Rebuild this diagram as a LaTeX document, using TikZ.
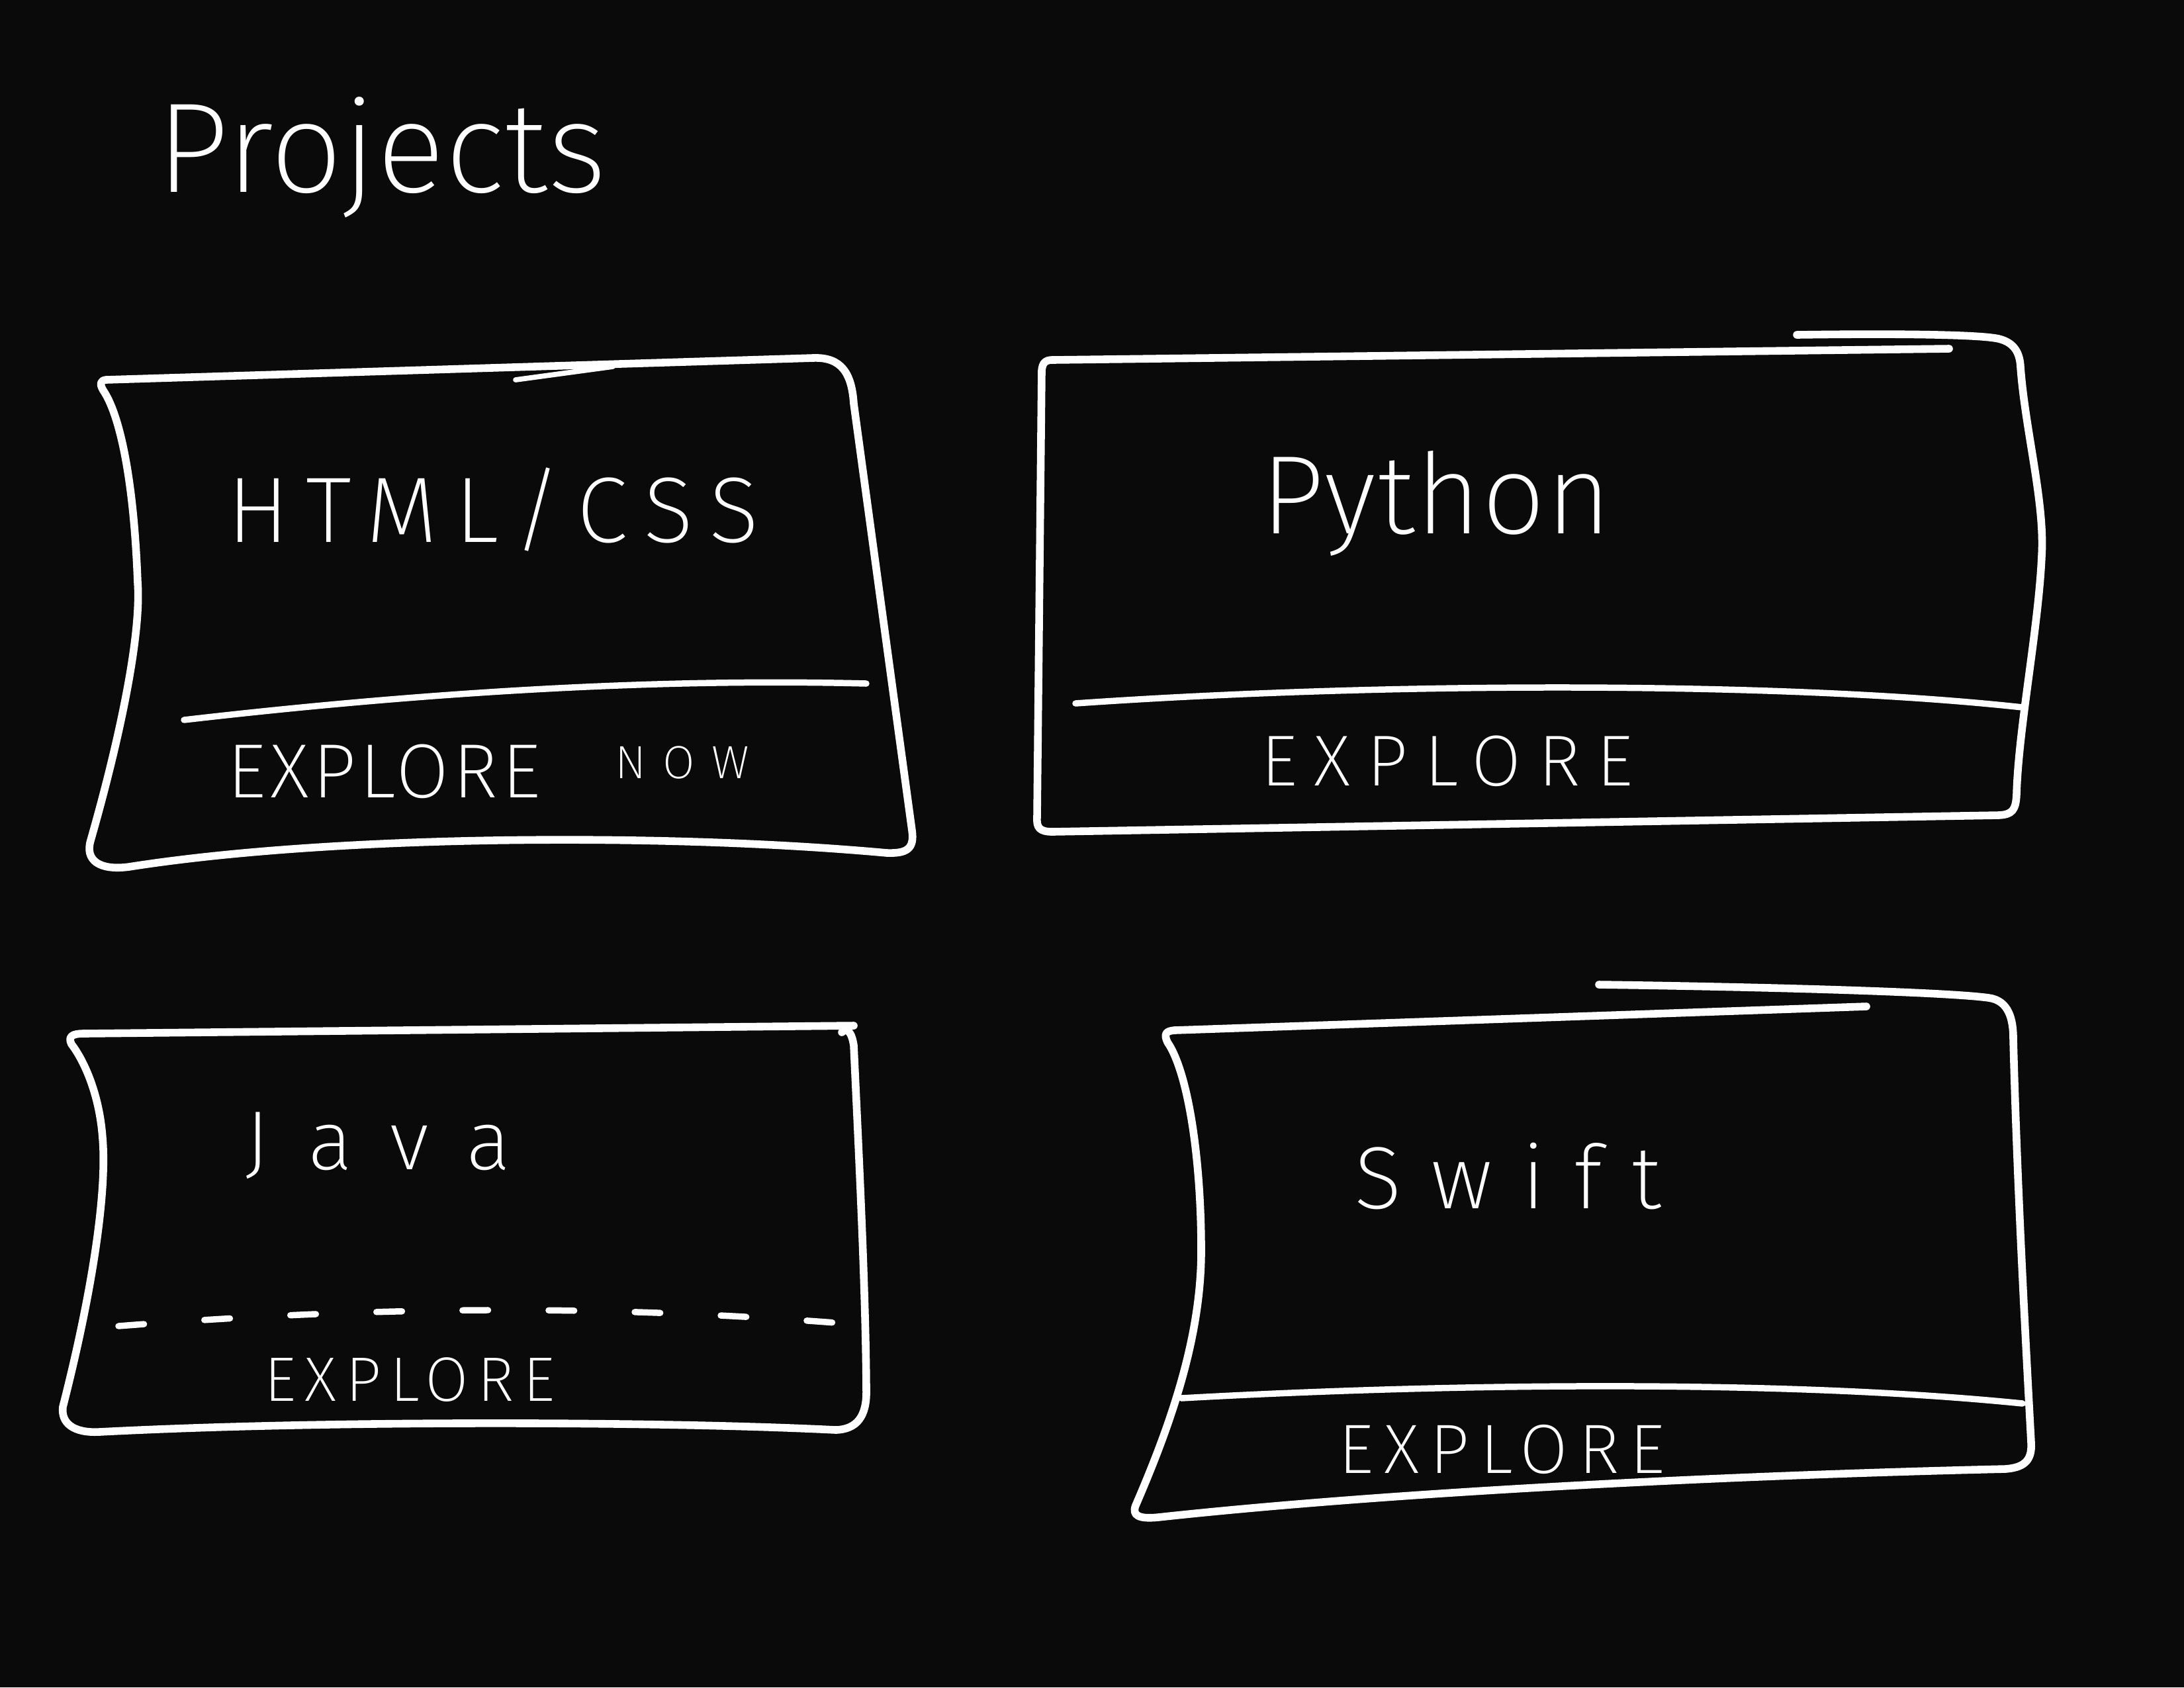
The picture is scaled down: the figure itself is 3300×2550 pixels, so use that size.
\documentclass[tikz,border=0pt]{standalone}
\usepackage{fontspec}
\newfontfamily\handfont{Fira Sans ExtraLight}
\newcommand\handsize[2]{\handfont\fontsize{#1}{#1}\selectfont\addfontfeature{LetterSpace=#2}}
\definecolor{board}{HTML}{0A0A0A}

\begin{document}
\begin{tikzpicture}[x=0.01cm, y=-0.01cm,
    card/.style = {draw=white, line width=3.3pt, line cap=round, line join=round},
    split/.style = {card, line width=2.7pt},
    cut/.style = {card, line width=2.7pt, dash pattern=on 11pt off 26pt},
    word/.style = {text=white, inner sep=0pt, anchor=base west}]
    \fill[board] (0,0) rectangle (3300,2550);
    \useasboundingbox (0,0) rectangle (3300,2550);

    \node[word, font=\handsize{55}{0}] (title) at (236,290) {Projects};

    % html / css
    \draw[card] (160,574) -- (1228,541) .. controls (1272,539) and (1287,565) .. (1290,610)
        -- (1378,1255) .. controls (1382,1283) and (1370,1290) .. (1340,1289)
        .. controls (1000,1258) and (500,1262) .. (195,1310) .. controls (150,1316) and (128,1300) .. (137,1270)
        .. controls (180,1120) and (214,960) .. (208,880) .. controls (202,720) and (180,625) .. (156,590)
        .. controls (150,580) and (152,575) .. (160,574);
    \draw[card, line width=2.2pt] (779,574) -- (926,554);
    \draw[split] (278,1088) .. controls (650,1045) and (1000,1025) .. (1309,1033);
    \node[word, font=\handsize{40}{18}] (html) at (343,819) {HTML/CSS};
    \node[word, font=\handsize{33}{5}] (htmlgo) at (343,1205) {EXPLORE\hspace{32pt}\raisebox{8pt}{\handsize{20}{36}NOW}};

    % python
    \draw[card] (1590,544) -- (2945,527);
    \draw[card] (2715,506) .. controls (2850,504) and (2990,505) .. (3020,512) .. controls (3045,518) and (3052,535) .. (3053,555)
        .. controls (3060,650) and (3090,760) .. (3085,840) .. controls (3080,950) and (3050,1100) .. (3047,1200)
        .. controls (3046,1225) and (3040,1231) .. (3020,1232) -- (1590,1257)
        .. controls (1570,1257) and (1566,1250) .. (1567,1235) -- (1574,560)
        .. controls (1575,548) and (1580,544) .. (1590,544);
    \draw[split] (1625,1063) .. controls (2100,1030) and (2700,1030) .. (3056,1069);
    \node[word, font=\handsize{48}{1}] (python) at (1905,806) {Python};
    \node[word, font=\handsize{31}{23}] (pythongo) at (1905,1187) {EXPLORE};

    % java
    \draw[card] (126,1562) -- (1290,1550);
    \draw[card] (1272,1560) .. controls (1280,1552) and (1287,1560) .. (1290,1580)
        .. controls (1298,1750) and (1308,1950) .. (1309,2100) .. controls (1310,2140) and (1295,2160) .. (1263,2161)
        .. controls (1000,2148) and (500,2146) .. (150,2164) .. controls (110,2166) and (92,2150) .. (95,2126)
        .. controls (140,1950) and (162,1800) .. (155,1720) .. controls (150,1650) and (125,1600) .. (108,1578)
        .. controls (102,1566) and (110,1562) .. (126,1562);
    \draw[cut] (179,2004) .. controls (550,1975) and (900,1970) .. (1288,2001);
    \node[word, font=\handsize{36}{46}] (java) at (370,1767) {Java};
    \node[word, font=\handsize{27}{14}] (javago) at (399,2117) {EXPLORE};

    % swift
    \draw[card] (1775,1557) -- (2820,1521);
    \draw[card] (2416,1488) .. controls (2700,1492) and (2950,1500) .. (3005,1508) .. controls (3035,1512) and (3042,1540) .. (3042,1570)
        .. controls (3048,1800) and (3062,2050) .. (3069,2180) .. controls (3071,2210) and (3055,2218) .. (3030,2220)
        .. controls (2600,2230) and (2100,2255) .. (1750,2293) .. controls (1720,2296) and (1710,2290) .. (1716,2275)
        .. controls (1770,2150) and (1815,2020) .. (1815,1890) .. controls (1815,1750) and (1795,1620) .. (1764,1575)
        .. controls (1758,1562) and (1762,1558) .. (1775,1557);
    \draw[split] (1785,2113) .. controls (2200,2090) and (2700,2085) .. (3056,2121);
    \node[word, font=\handsize{38}{33}] (swift) at (2046,1826) {Swift};
    \node[word, font=\handsize{30}{15}] (swiftgo) at (2022,2226) {EXPLORE};
\end{tikzpicture}
\end{document}
